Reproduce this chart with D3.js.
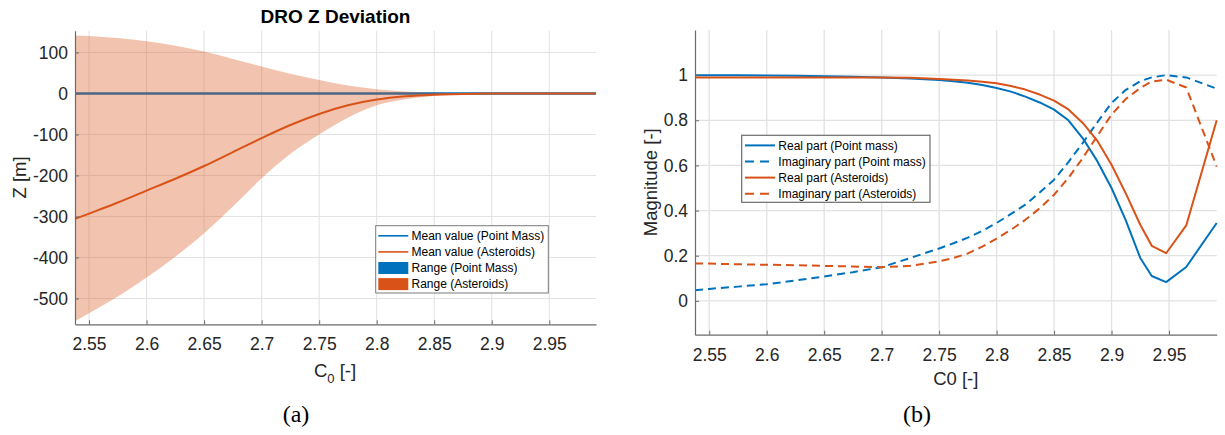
<!DOCTYPE html>
<html>
<head>
<meta charset="utf-8">
<script src="https://cdn.jsdelivr.net/npm/d3@7"></script>
<style>
  html, body { margin: 0; padding: 0; background: #fff; }
  svg { display: block; }
  text { font-family: "Liberation Sans", Arial, Helvetica, sans-serif; }
</style>
</head>
<body>
<svg id="fig" width="1225" height="435"></svg>
<script>
// ---------- Panel (a): DRO Z deviation ----------
const c0Z = [2.5378, 2.55, 2.575, 2.6, 2.625, 2.65, 2.675, 2.7, 2.725, 2.75, 2.775, 2.8, 2.825, 2.85, 2.875, 2.9, 2.925, 2.95, 2.9906];
const zMeanPointMass = [0, 0, 0, 0, 0, 0, 0, 0, 0, 0, 0, 0, 0, 0, 0, 0, 0, 0, 0];
const zMinPointMass  = [0, 0, 0, 0, 0, 0, 0, 0, 0, 0, 0, 0, 0, 0, 0, 0, 0, 0, 0];
const zMaxPointMass  = [0, 0, 0, 0, 0, 0, 0, 0, 0, 0, 0, 0, 0, 0, 0, 0, 0, 0, 0];
const zMeanAsteroids = [-306, -293, -266, -237, -208, -177, -143, -109, -77, -50, -29, -15, -7, -3, -1.2, -0.4, 0, 0, 0];
const zMaxAsteroids  = [141.5, 140, 135, 127, 116, 102, 84, 66, 48, 33, 19.5, 10.5, 5, 1.8, 0.5, 0, 0, 0, 0];
const zMinAsteroids  = [-555, -536, -495, -449, -398, -341, -276, -207, -147, -100, -59, -29, -14, -6, -2.5, -0.5, 0, 0, 0];
const zTicks  = [-500, -400, -300, -200, -100, 0, 100];
const c0TicksA = [2.55, 2.6, 2.65, 2.7, 2.75, 2.8, 2.85, 2.9, 2.95];
const legendA = ["Mean value (Point Mass)", "Mean value (Asteroids)", "Range (Point Mass)", "Range (Asteroids)"];

// ---------- Panel (b): eigenvalue magnitudes ----------
const c0M = [2.5376, 2.55, 2.575, 2.6, 2.625, 2.65, 2.675, 2.7, 2.725, 2.75, 2.7625, 2.775, 2.7875, 2.8, 2.8125, 2.825, 2.8375, 2.85, 2.8625, 2.875, 2.8875, 2.9, 2.9125, 2.925, 2.935, 2.9475, 2.965, 2.9915];
const realPointMass = [1.0, 1.0, 0.999, 0.998, 0.997, 0.995, 0.993, 0.99, 0.985, 0.978, 0.973, 0.966, 0.956, 0.943, 0.927, 0.905, 0.879, 0.847, 0.80, 0.72, 0.62, 0.50, 0.355, 0.19, 0.11, 0.083, 0.15, 0.345];
const imagPointMass = [0.047, 0.053, 0.063, 0.074, 0.09, 0.108, 0.127, 0.149, 0.19, 0.232, 0.255, 0.28, 0.31, 0.345, 0.385, 0.426, 0.48, 0.537, 0.615, 0.70, 0.79, 0.877, 0.935, 0.973, 0.99, 1.0, 0.99, 0.94];
const realAsteroids = [0.99, 0.99, 0.99, 0.99, 0.99, 0.99, 0.99, 0.99, 0.988, 0.983, 0.98, 0.976, 0.971, 0.964, 0.952, 0.936, 0.914, 0.887, 0.848, 0.788, 0.71, 0.603, 0.475, 0.337, 0.244, 0.211, 0.334, 0.80];
const imagAsteroids = [0.166, 0.165, 0.162, 0.16, 0.158, 0.155, 0.152, 0.149, 0.155, 0.175, 0.19, 0.21, 0.24, 0.276, 0.315, 0.359, 0.41, 0.47, 0.545, 0.633, 0.73, 0.825, 0.895, 0.943, 0.972, 0.98, 0.945, 0.595];
const magTicks = [0, 0.2, 0.4, 0.6, 0.8, 1];
const magTickLabels = ["0", "0.2", "0.4", "0.6", "0.8", "1"];
const c0TicksB = [2.55, 2.6, 2.65, 2.7, 2.75, 2.8, 2.85, 2.9, 2.95];
const legendB = ["Real part (Point mass)", "Imaginary part (Point mass)", "Real part (Asteroids)", "Imaginary part (Asteroids)"];

const BLUE = "#0072BD", ORANGE = "#D95319";
const TXT = "#262626", AXIS = "#6b6b6b";
const svg = d3.select("#fig");

function drawGrid(g, x, y, xt, yt, color, w) {
  const [x0, x1] = x.range(), [y0, y1] = y.range();
  g.append("g").selectAll("line").data(xt).join("line")
    .attr("x1", d => x(d)).attr("x2", d => x(d)).attr("y1", y0).attr("y2", y1)
    .attr("stroke", color).attr("stroke-width", w);
  g.append("g").selectAll("line").data(yt).join("line")
    .attr("x1", x0).attr("x2", x1).attr("y1", d => y(d)).attr("y2", d => y(d))
    .attr("stroke", color).attr("stroke-width", w);
}

function drawAxes(g, x, y, xt, yt, yFmt) {
  const [x0] = x.range(), [y0] = y.range();
  const ax = g.append("g").attr("transform", `translate(0,${y0})`)
    .call(d3.axisBottom(x).tickValues(xt).tickSizeInner(-4).tickSizeOuter(0).tickPadding(10).tickFormat(d3.format("")));
  const ay = g.append("g").attr("transform", `translate(${x0},0)`)
    .call(d3.axisLeft(y).tickValues(yt).tickSizeInner(-4).tickSizeOuter(0).tickPadding(7).tickFormat(yFmt));
  [ax, ay].forEach(a => {
    a.select(".domain").attr("stroke", AXIS).attr("stroke-width", 1.2);
    a.selectAll(".tick line").attr("stroke", AXIS).attr("stroke-width", 1);
    a.selectAll(".tick text").attr("fill", TXT).style("font-size", "17.5px")
      .style("font-family", '"Liberation Sans", Arial, sans-serif');
  });
  ax.selectAll(".tick text").attr("dy", 0).attr("y", 26);
}

// ===== Panel (a) =====
const xA = d3.scaleLinear().domain([c0Z[0], c0Z[c0Z.length - 1]]).range([75, 596]);
const yA = d3.scaleLinear().domain([-563, 153]).range([324.3, 30.7]);
const gA = svg.append("g");
drawGrid(gA, xA, yA, c0TicksA, zTicks, "#e2e2e2", 1);

const lineA = vals => d3.line().x((d, i) => xA(c0Z[i])).y(d => yA(d)).curve(d3.curveMonotoneX)(vals);
const areaA = (lo, hi) => d3.area().x((d, i) => xA(c0Z[i])).y0((d, i) => yA(lo[i])).y1((d, i) => yA(hi[i]))
  .curve(d3.curveMonotoneX)(c0Z);

// mean lines first, then the translucent ranges over them
gA.append("path").attr("d", lineA(zMeanPointMass)).attr("fill", "none").attr("stroke", BLUE).attr("stroke-width", 2.4);
gA.append("path").attr("d", lineA(zMeanAsteroids)).attr("fill", "none").attr("stroke", ORANGE).attr("stroke-width", 2);
gA.append("path").attr("d", areaA(zMinPointMass, zMaxPointMass)).attr("fill", BLUE).attr("fill-opacity", 0.35);
gA.append("path").attr("d", areaA(zMinAsteroids, zMaxAsteroids)).attr("fill", ORANGE).attr("fill-opacity", 0.35);

drawAxes(gA, xA, yA, c0TicksA, zTicks, d3.format(""));
gA.selectAll("g.tick text").text(function () { return this.textContent.replace("−", "-"); });

gA.append("text").attr("x", 335.5).attr("y", 23.3).attr("text-anchor", "middle")
  .style("font-size", "19px").style("font-weight", "bold").attr("fill", "#000").text("DRO Z Deviation");
const xlabA = gA.append("text").attr("x", 335).attr("y", 376.7).attr("text-anchor", "middle")
  .style("font-size", "18.5px").attr("fill", TXT);
xlabA.append("tspan").text("C");
xlabA.append("tspan").attr("dy", 6).style("font-size", "13px").text("0");
xlabA.append("tspan").attr("dy", -6).text(" [-]");
gA.append("text").attr("transform", "translate(25.5,177.5) rotate(-90)").attr("text-anchor", "middle")
  .style("font-size", "18.5px").attr("fill", TXT).text("Z [m]");

// legend (a)
const lgA = gA.append("g");
lgA.append("rect").attr("x", 375.7).attr("y", 225.7).attr("width", 172.6).attr("height", 67.3)
  .attr("fill", "#fff").attr("stroke", "#7a7a7a").attr("stroke-width", 1);
legendA.forEach((lab, i) => {
  const cy = 235.8 + i * 16.1;
  const col = i % 2 === 0 ? BLUE : ORANGE;
  if (i < 2) {
    lgA.append("line").attr("x1", 378.3).attr("x2", 408.3).attr("y1", cy).attr("y2", cy)
      .attr("stroke", col).attr("stroke-width", 1.6);
  } else {
    lgA.append("rect").attr("x", 378.3).attr("y", cy - 6).attr("width", 30).attr("height", 12).attr("fill", col);
  }
  lgA.append("text").attr("x", 411.5).attr("y", cy + 4.3).style("font-size", "12px").attr("fill", "#000").text(lab);
});

// ===== Panel (b) =====
const xB = d3.scaleLinear().domain([c0M[0], c0M[c0M.length - 1]]).range([695, 1216.7]);
const yB = d3.scaleLinear().domain([-0.15, 1.2]).range([334.7, 30]);
const gB = svg.append("g");
drawGrid(gB, xB, yB, c0TicksB, magTicks, "#e2e2e2", 1.3);

const lineB = vals => d3.line().x((d, i) => xB(c0M[i])).y(d => yB(d)).curve(d3.curveLinear)(vals);
const seriesB = [
  { v: realPointMass, c: BLUE, dash: null },
  { v: imagPointMass, c: BLUE, dash: "8,5" },
  { v: realAsteroids, c: ORANGE, dash: null },
  { v: imagAsteroids, c: ORANGE, dash: "8,5" }
];
seriesB.forEach(s => {
  gB.append("path").attr("d", lineB(s.v)).attr("fill", "none").attr("stroke", s.c)
    .attr("stroke-width", 2).attr("stroke-dasharray", s.dash).attr("stroke-linejoin", "round");
});

drawAxes(gB, xB, yB, c0TicksB, magTicks, (d, i) => magTickLabels[i]);

gB.append("text").attr("x", 955.8).attr("y", 385).attr("text-anchor", "middle")
  .style("font-size", "18.5px").attr("fill", TXT).text("C0 [-]");
gB.append("text").attr("transform", "translate(656.7,182.3) rotate(-90)").attr("text-anchor", "middle")
  .style("font-size", "18.5px").attr("fill", TXT).text("Magnitude [-]");

// legend (b)
const lgB = gB.append("g");
lgB.append("rect").attr("x", 741.7).attr("y", 135.3).attr("width", 188.3).attr("height", 67)
  .attr("fill", "#fff").attr("stroke", "#6b6b6b").attr("stroke-width", 1.2);
legendB.forEach((lab, i) => {
  const cy = 145.4 + i * 16.1;
  const s = seriesB[i];
  lgB.append("line").attr("x1", 745).attr("x2", 775).attr("y1", cy).attr("y2", cy)
    .attr("stroke", s.c).attr("stroke-width", 2).attr("stroke-dasharray", s.dash ? "9,6" : null);
  lgB.append("text").attr("x", 778.3).attr("y", cy + 4.3).style("font-size", "12px").attr("fill", "#000").text(lab);
});

// sub-figure captions
svg.append("text").attr("x", 296).attr("y", 422).attr("text-anchor", "middle")
  .style("font-family", '"Liberation Serif", "Times New Roman", serif').style("font-size", "24px").attr("fill", "#000").text("(a)");
svg.append("text").attr("x", 917).attr("y", 422).attr("text-anchor", "middle")
  .style("font-family", '"Liberation Serif", "Times New Roman", serif').style("font-size", "24px").attr("fill", "#000").text("(b)");
</script>
</body>
</html>
